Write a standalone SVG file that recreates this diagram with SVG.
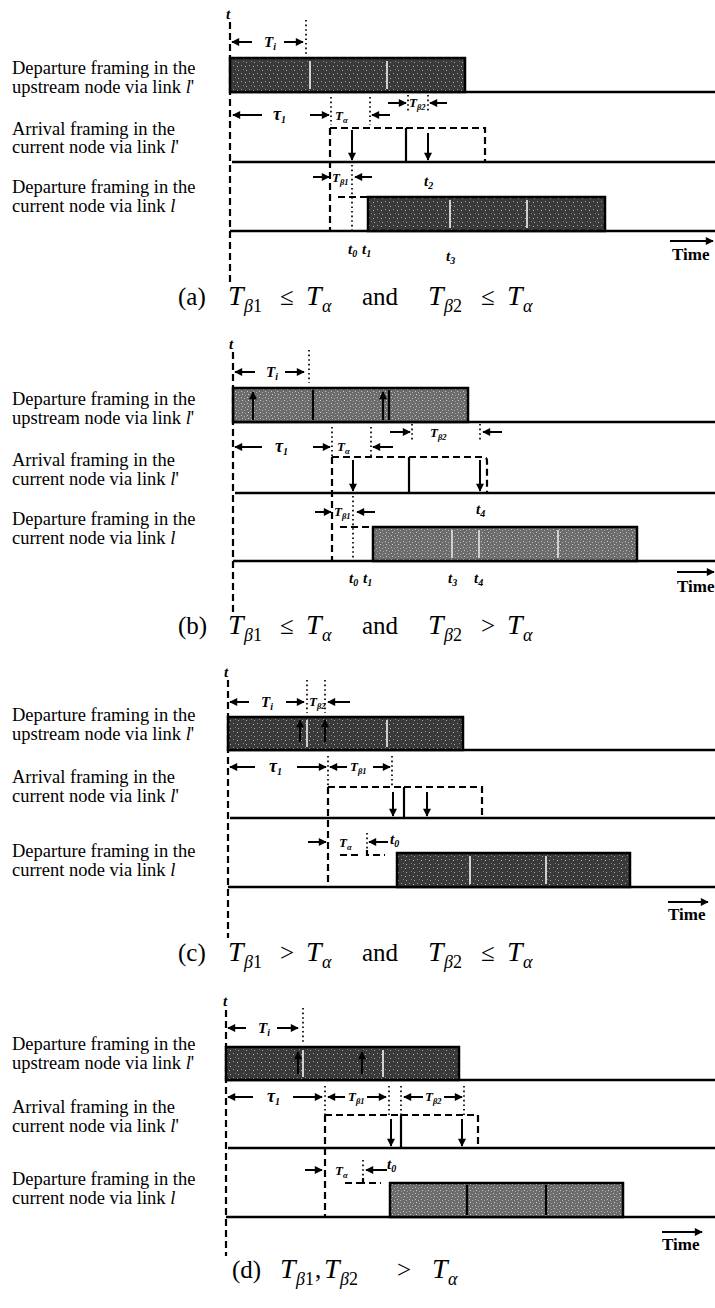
<svg xmlns="http://www.w3.org/2000/svg" width="715" height="1308" viewBox="0 0 715 1308">
<style>
.lbl{font-family:"Liberation Serif",serif;font-size:18.5px;fill:#000}
.sym{font-family:"Liberation Serif",serif;font-style:italic;font-weight:bold;font-size:15px;fill:#000}
.tau{font-family:"Liberation Serif",serif;font-style:italic;font-weight:bold;font-size:18px;fill:#000}
.sm{font-family:"Liberation Serif",serif;font-style:italic;font-weight:bold;font-size:13px;fill:#000}
.sb{font-size:10px}
.sbs{font-size:8.5px}
.time{font-family:"Liberation Serif",serif;font-weight:bold;font-size:17px;fill:#000}
.cap{font-family:"Liberation Serif",serif;font-size:25px;fill:#000}
.ci{font-style:italic;font-size:28px}
.cs{font-style:italic;font-size:18px}
.cn{font-size:18px}
.base{stroke:#000;stroke-width:2.5}
.dash{stroke:#000;stroke-width:2.2;stroke-dasharray:7 4;fill:none}
.dot{stroke:#000;stroke-width:1.7;stroke-dasharray:1.6 3}
.arr{stroke:#000;stroke-width:2;marker-end:url(#ah)}
.solid{stroke:#000;stroke-width:2.2}
.frame{stroke:#000;stroke-width:2.5}
.div{stroke:#d0d0d0;stroke-width:2}
</style>
<defs>
<marker id="ah" viewBox="0 0 10 10" refX="9" refY="5" markerUnits="userSpaceOnUse" markerWidth="9" markerHeight="8" orient="auto">
<path d="M0,0 L10,5 L0,10 z" fill="#000"/>
</marker>
<pattern id="texD" width="8" height="8" patternUnits="userSpaceOnUse">
<rect width="8" height="8" fill="#3a3a3a"/>
<rect x="1" y="1" width="1" height="1" fill="#9a9a9a"/>
<rect x="5" y="2" width="1" height="1" fill="#bbbbbb"/>
<rect x="3" y="5" width="1" height="1" fill="#888888"/>
<rect x="6" y="6" width="1" height="1" fill="#aaaaaa"/>
</pattern>
<pattern id="texM" width="6" height="6" patternUnits="userSpaceOnUse">
<rect width="6" height="6" fill="#6c6c6c"/>
<rect x="1" y="1" width="1" height="1" fill="#c4c4c4"/>
<rect x="4" y="2" width="1" height="1" fill="#b0b0b0"/>
<rect x="2" y="4" width="1" height="1" fill="#d0d0d0"/>
<rect x="5" y="5" width="1" height="1" fill="#a0a0a0"/>
</pattern>
</defs>
<rect width="715" height="1308" fill="#fff"/>

<!-- Panel (a) -->
<g id="panel-a">
<g id="a-labels">
<text class="lbl" x="12" y="74">Departure framing in the</text>
<text class="lbl" x="12" y="93">upstream node via link <tspan font-style="italic">l</tspan>'</text>
<text class="lbl" x="12" y="135">Arrival framing in the</text>
<text class="lbl" x="12" y="153">current node via link <tspan font-style="italic">l</tspan>'</text>
<text class="lbl" x="12" y="193">Departure framing in the</text>
<text class="lbl" x="12" y="212">current node via link <tspan font-style="italic">l</tspan></text>
</g>
<g id="a-frames">
<line class="base" x1="230" y1="92" x2="715" y2="92"/>
<rect class="frame" x="230" y="58" width="235" height="34" fill="url(#texD)"/>
<line class="div" x1="310" y1="61" x2="310" y2="89"/>
<line class="div" x1="387" y1="61" x2="387" y2="89"/>
<line class="base" x1="232" y1="162" x2="715" y2="162"/>
<line class="base" x1="230" y1="231" x2="715" y2="231"/>
<rect class="frame" x="368" y="197" width="237" height="34" fill="url(#texD)"/>
<line class="div" x1="450" y1="200" x2="450" y2="228"/>
<line class="div" x1="527" y1="200" x2="527" y2="228"/>
</g>
<g id="a-connectors">
<line class="dash" x1="230" y1="22" x2="230" y2="285"/>
<line class="arr" x1="252" y1="42" x2="232" y2="42"/>
<line class="arr" x1="284" y1="42" x2="303" y2="42"/>
<line class="dot" x1="306" y1="20" x2="306" y2="55"/>
<line class="arr" x1="262" y1="115" x2="233" y2="115"/>
<line class="arr" x1="310" y1="115" x2="329" y2="115"/>
<line class="dot" x1="331" y1="97" x2="331" y2="125"/>
<line class="dot" x1="370" y1="97" x2="370" y2="125"/>
<line class="arr" x1="390" y1="115" x2="372" y2="115"/>
<line class="arr" x1="388" y1="103" x2="406" y2="103"/>
<line class="dot" x1="408" y1="95" x2="408" y2="113"/>
<line class="dot" x1="428" y1="95" x2="428" y2="113"/>
<line class="arr" x1="447" y1="103" x2="430" y2="103"/>
<path class="dash" d="M330,128 H406 M406,128 H485 V162"/>
<line class="solid" x1="406" y1="128" x2="406" y2="162"/>
<line class="dash" x1="330" y1="128" x2="330" y2="231"/>
<line class="arr" x1="352" y1="130" x2="352" y2="160"/>
<line class="arr" x1="428" y1="133" x2="428" y2="160"/>
<line class="arr" x1="313" y1="177" x2="329" y2="177"/>
<line class="arr" x1="372" y1="177" x2="355" y2="177"/>
<line class="dot" x1="352" y1="165" x2="352" y2="231"/>
<line class="dash" x1="338" y1="197" x2="367" y2="197"/>
<line class="arr" x1="670" y1="241" x2="713" y2="241"/>
</g>
<g id="a-text">
<text class="sym" x="226" y="19">t</text>
<text class="sym" x="264" y="47">T<tspan class="sb" dy="3">i</tspan></text>
<text class="tau" x="273" y="120">τ<tspan class="sb" dy="3">1</tspan></text>
<text class="sm" x="335" y="120">T<tspan class="sbs" dy="3">α</tspan></text>
<text class="sm" x="409" y="107">T<tspan class="sbs" dy="3">β2</tspan></text>
<text class="sm" x="332" y="182">T<tspan class="sbs" dy="3">β1</tspan></text>
<text class="sym" x="424" y="186">t<tspan class="sb" dy="3">2</tspan></text>
<text class="sym" x="348" y="254">t<tspan class="sb" dy="3">0</tspan></text>
<text class="sym" x="362" y="254">t<tspan class="sb" dy="3">1</tspan></text>
<text class="sym" x="446" y="261">t<tspan class="sb" dy="3">3</tspan></text>
<text class="time" x="672" y="260">Time</text>
<text class="cap" y="305"><tspan x="178">(a)</tspan><tspan x="228" class="ci">T</tspan><tspan x="244" y="312" class="cs">β</tspan><tspan class="cn">1</tspan><tspan x="280" y="305">≤</tspan><tspan x="306" class="ci">T</tspan><tspan x="322" y="312" class="cs">α</tspan><tspan x="362" y="305">and</tspan><tspan x="428" class="ci">T</tspan><tspan x="444" y="312" class="cs">β</tspan><tspan class="cn">2</tspan><tspan x="481" y="305">≤</tspan><tspan x="507" class="ci">T</tspan><tspan x="523" y="312" class="cs">α</tspan></text>
</g>
</g>

<!-- Panel (b) -->
<g id="panel-b" transform="translate(0,330)">
<g id="b-labels">
<text class="lbl" x="12" y="75">Departure framing in the</text>
<text class="lbl" x="12" y="94">upstream node via link <tspan font-style="italic">l</tspan>'</text>
<text class="lbl" x="12" y="136">Arrival framing in the</text>
<text class="lbl" x="12" y="155">current node via link <tspan font-style="italic">l</tspan>'</text>
<text class="lbl" x="12" y="195">Departure framing in the</text>
<text class="lbl" x="12" y="214">current node via link <tspan font-style="italic">l</tspan></text>
</g>
<g id="b-frames">
<line class="base" x1="233" y1="92" x2="715" y2="92"/>
<rect class="frame" x="233" y="58" width="235" height="34" fill="url(#texM)"/>
<line class="solid" x1="313" y1="60" x2="313" y2="90"/>
<line class="solid" x1="389" y1="60" x2="389" y2="90"/>
<line class="arr" x1="253" y1="90" x2="253" y2="62"/>
<line class="arr" x1="383" y1="90" x2="383" y2="62"/>
<line class="base" x1="235" y1="163" x2="715" y2="163"/>
<line class="base" x1="233" y1="231" x2="715" y2="231"/>
<rect class="frame" x="373" y="197" width="264" height="34" fill="url(#texM)"/>
<line class="div" x1="452" y1="200" x2="452" y2="228"/>
<line class="div" x1="479" y1="200" x2="479" y2="228"/>
<line class="div" x1="558" y1="200" x2="558" y2="228"/>
</g>
<g id="b-connectors">
<line class="dash" x1="233" y1="22" x2="233" y2="283"/>
<line class="arr" x1="255" y1="42" x2="235" y2="42"/>
<line class="arr" x1="285" y1="42" x2="304" y2="42"/>
<line class="dot" x1="309" y1="20" x2="309" y2="53"/>
<line class="arr" x1="262" y1="117" x2="235" y2="117"/>
<line class="arr" x1="313" y1="117" x2="330" y2="117"/>
<line class="dot" x1="332" y1="97" x2="332" y2="127"/>
<line class="dot" x1="371" y1="97" x2="371" y2="127"/>
<line class="arr" x1="393" y1="117" x2="373" y2="117"/>
<line class="arr" x1="390" y1="102" x2="410" y2="102"/>
<line class="dot" x1="412" y1="94" x2="412" y2="110"/>
<line class="dot" x1="480" y1="94" x2="480" y2="110"/>
<line class="arr" x1="502" y1="102" x2="483" y2="102"/>
<path class="dash" d="M332,127 H409 M409,127 H483 Q487,127 487,131 V163"/>
<line class="solid" x1="409" y1="127" x2="409" y2="163"/>
<line class="dash" x1="332" y1="127" x2="332" y2="231"/>
<line class="arr" x1="353" y1="130" x2="353" y2="161"/>
<line class="arr" x1="480" y1="130" x2="480" y2="161"/>
<line class="arr" x1="315" y1="182" x2="331" y2="182"/>
<line class="arr" x1="375" y1="182" x2="357" y2="182"/>
<line class="dot" x1="353" y1="166" x2="353" y2="231"/>
<line class="dash" x1="340" y1="197" x2="370" y2="197"/>
<line class="arr" x1="677" y1="242" x2="714" y2="242"/>
</g>
<g id="b-text">
<text class="sym" x="229" y="19">t</text>
<text class="sym" x="266" y="47">T<tspan class="sb" dy="3">i</tspan></text>
<text class="tau" x="275" y="122">τ<tspan class="sb" dy="3">1</tspan></text>
<text class="sm" x="337" y="121">T<tspan class="sbs" dy="3">α</tspan></text>
<text class="sm" x="430" y="107">T<tspan class="sbs" dy="3">β2</tspan></text>
<text class="sm" x="334" y="186">T<tspan class="sbs" dy="3">β1</tspan></text>
<text class="sym" x="476" y="184">t<tspan class="sb" dy="3">4</tspan></text>
<text class="sym" x="349" y="253">t<tspan class="sb" dy="3">0</tspan></text>
<text class="sym" x="363" y="253">t<tspan class="sb" dy="3">1</tspan></text>
<text class="sym" x="448" y="253">t<tspan class="sb" dy="3">3</tspan></text>
<text class="sym" x="474" y="253">t<tspan class="sb" dy="3">4</tspan></text>
<text class="time" x="677" y="262">Time</text>
<text class="cap" y="304"><tspan x="178">(b)</tspan><tspan x="228" class="ci">T</tspan><tspan x="244" y="311" class="cs">β</tspan><tspan class="cn">1</tspan><tspan x="280" y="304">≤</tspan><tspan x="306" class="ci">T</tspan><tspan x="322" y="311" class="cs">α</tspan><tspan x="362" y="304">and</tspan><tspan x="428" class="ci">T</tspan><tspan x="444" y="311" class="cs">β</tspan><tspan class="cn">2</tspan><tspan x="481" y="304">&gt;</tspan><tspan x="507" class="ci">T</tspan><tspan x="523" y="311" class="cs">α</tspan></text>
</g>
</g>

<!-- Panel (c) -->
<g id="panel-c" transform="translate(0,658)">
<g id="c-labels">
<text class="lbl" x="12" y="63">Departure framing in the</text>
<text class="lbl" x="12" y="82">upstream node via link <tspan font-style="italic">l</tspan>'</text>
<text class="lbl" x="12" y="125">Arrival framing in the</text>
<text class="lbl" x="12" y="144">current node via link <tspan font-style="italic">l</tspan>'</text>
<text class="lbl" x="12" y="199">Departure framing in the</text>
<text class="lbl" x="12" y="218">current node via link <tspan font-style="italic">l</tspan></text>
</g>
<g id="c-frames">
<line class="base" x1="228" y1="92" x2="715" y2="92"/>
<rect class="frame" x="228" y="59" width="235" height="33" fill="url(#texD)"/>
<line class="div" x1="307" y1="62" x2="307" y2="89"/>
<line class="div" x1="387" y1="62" x2="387" y2="89"/>
<line class="arr" x1="300" y1="84" x2="300" y2="62"/>
<line class="arr" x1="325" y1="84" x2="325" y2="62"/>
<line class="base" x1="230" y1="160" x2="715" y2="160"/>
<line class="base" x1="228" y1="229" x2="715" y2="229"/>
<rect class="frame" x="397" y="195" width="233" height="34" fill="url(#texD)"/>
<line class="div" x1="470" y1="198" x2="470" y2="226"/>
<line class="div" x1="546" y1="198" x2="546" y2="226"/>
</g>
<g id="c-connectors">
<line class="dash" x1="228" y1="22" x2="228" y2="280"/>
<line class="arr" x1="249" y1="44" x2="230" y2="44"/>
<line class="arr" x1="286" y1="44" x2="304" y2="44"/>
<line class="dot" x1="307" y1="22" x2="307" y2="55"/>
<line class="dot" x1="325" y1="22" x2="325" y2="55"/>
<line class="arr" x1="350" y1="44" x2="328" y2="44"/>
<line class="arr" x1="255" y1="109" x2="230" y2="109"/>
<line class="arr" x1="297" y1="109" x2="326" y2="109"/>
<line class="dot" x1="328" y1="98" x2="328" y2="129"/>
<line class="arr" x1="347" y1="109" x2="330" y2="109"/>
<line class="arr" x1="373" y1="109" x2="390" y2="109"/>
<line class="dot" x1="392" y1="98" x2="392" y2="129"/>
<path class="dash" d="M328,129 H404 M404,129 H482 V160"/>
<line class="solid" x1="404" y1="129" x2="404" y2="160"/>
<line class="dash" x1="328" y1="129" x2="328" y2="229"/>
<line class="arr" x1="393" y1="134" x2="393" y2="158"/>
<line class="arr" x1="427" y1="134" x2="427" y2="158"/>
<line class="arr" x1="308" y1="184" x2="326" y2="184"/>
<line class="dot" x1="367" y1="175" x2="367" y2="195"/>
<line class="arr" x1="388" y1="184" x2="369" y2="184"/>
<line class="dash" x1="340" y1="197" x2="358" y2="197"/>
<path class="dash" d="M367,192 V197 H385"/>
<line class="arr" x1="668" y1="244" x2="708" y2="244"/>
</g>
<g id="c-text">
<text class="sym" x="224" y="19">t</text>
<text class="sym" x="261" y="49">T<tspan class="sb" dy="3">i</tspan></text>
<text class="sm" x="309" y="48">T<tspan class="sbs" dy="3">β2</tspan></text>
<text class="tau" x="269" y="114">τ<tspan class="sb" dy="3">1</tspan></text>
<text class="sm" x="350" y="113">T<tspan class="sbs" dy="3">β1</tspan></text>
<text class="sm" x="339" y="189">T<tspan class="sbs" dy="3">α</tspan></text>
<text class="sym" x="390" y="186">t<tspan class="sb" dy="3">0</tspan></text>
<text class="time" x="668" y="262">Time</text>
<text class="cap" y="303"><tspan x="178">(c)</tspan><tspan x="228" class="ci">T</tspan><tspan x="244" y="310" class="cs">β</tspan><tspan class="cn">1</tspan><tspan x="280" y="303">&gt;</tspan><tspan x="306" class="ci">T</tspan><tspan x="322" y="310" class="cs">α</tspan><tspan x="362" y="303">and</tspan><tspan x="428" class="ci">T</tspan><tspan x="444" y="310" class="cs">β</tspan><tspan class="cn">2</tspan><tspan x="481" y="303">≤</tspan><tspan x="507" class="ci">T</tspan><tspan x="523" y="310" class="cs">α</tspan></text>
</g>
</g>

<!-- Panel (d) -->
<g id="panel-d" transform="translate(0,988)">
<g id="d-labels">
<text class="lbl" x="12" y="62">Departure framing in the</text>
<text class="lbl" x="12" y="81">upstream node via link <tspan font-style="italic">l</tspan>'</text>
<text class="lbl" x="12" y="125">Arrival framing in the</text>
<text class="lbl" x="12" y="144">current node via link <tspan font-style="italic">l</tspan>'</text>
<text class="lbl" x="12" y="197">Departure framing in the</text>
<text class="lbl" x="12" y="216">current node via link <tspan font-style="italic">l</tspan></text>
</g>
<g id="d-frames">
<line class="base" x1="226" y1="92" x2="715" y2="92"/>
<rect class="frame" x="226" y="59" width="233" height="33" fill="url(#texD)"/>
<line class="div" x1="303" y1="62" x2="303" y2="89"/>
<line class="div" x1="383" y1="62" x2="383" y2="89"/>
<line class="arr" x1="298" y1="86" x2="298" y2="64"/>
<line class="arr" x1="362" y1="86" x2="362" y2="64"/>
<line class="base" x1="228" y1="160" x2="715" y2="160"/>
<line class="base" x1="226" y1="229" x2="715" y2="229"/>
<rect class="frame" x="390" y="195" width="233" height="34" fill="url(#texM)"/>
<line class="solid" x1="467" y1="197" x2="467" y2="227"/>
<line class="solid" x1="546" y1="197" x2="546" y2="227"/>
</g>
<g id="d-connectors">
<line class="dash" x1="226" y1="22" x2="226" y2="268"/>
<line class="arr" x1="246" y1="40" x2="228" y2="40"/>
<line class="arr" x1="277" y1="40" x2="298" y2="40"/>
<line class="dot" x1="303" y1="20" x2="303" y2="54"/>
<line class="arr" x1="253" y1="109" x2="228" y2="109"/>
<line class="arr" x1="293" y1="109" x2="322" y2="109"/>
<line class="dot" x1="325" y1="98" x2="325" y2="127"/>
<line class="arr" x1="345" y1="109" x2="328" y2="109"/>
<line class="arr" x1="367" y1="109" x2="386" y2="109"/>
<line class="dot" x1="389" y1="98" x2="389" y2="127"/>
<line class="dot" x1="401" y1="98" x2="401" y2="127"/>
<line class="arr" x1="423" y1="109" x2="404" y2="109"/>
<line class="arr" x1="444" y1="109" x2="462" y2="109"/>
<line class="dot" x1="464" y1="98" x2="464" y2="127"/>
<path class="dash" d="M325,127 H401 M401,127 H478 V160"/>
<line class="solid" x1="401" y1="127" x2="401" y2="160"/>
<line class="dash" x1="325" y1="127" x2="325" y2="229"/>
<line class="arr" x1="391" y1="131" x2="391" y2="158"/>
<line class="arr" x1="462" y1="131" x2="462" y2="158"/>
<line class="arr" x1="305" y1="182" x2="322" y2="182"/>
<line class="dot" x1="363" y1="172" x2="363" y2="195"/>
<line class="arr" x1="387" y1="182" x2="366" y2="182"/>
<line class="dash" x1="345" y1="195" x2="362" y2="195"/>
<path class="dash" d="M363,190 V195 H381"/>
<line class="arr" x1="662" y1="244" x2="702" y2="244"/>
</g>
<g id="d-text">
<text class="sym" x="223" y="18">t</text>
<text class="sym" x="258" y="45">T<tspan class="sb" dy="3">i</tspan></text>
<text class="tau" x="267" y="114">τ<tspan class="sb" dy="3">1</tspan></text>
<text class="sm" x="348" y="113">T<tspan class="sbs" dy="3">β1</tspan></text>
<text class="sm" x="425" y="113">T<tspan class="sbs" dy="3">β2</tspan></text>
<text class="sm" x="335" y="187">T<tspan class="sbs" dy="3">α</tspan></text>
<text class="sym" x="387" y="181">t<tspan class="sb" dy="3">0</tspan></text>
<text class="time" x="662" y="262">Time</text>
<text class="cap" y="290"><tspan x="232">(d)</tspan><tspan x="280" class="ci">T</tspan><tspan x="296" y="297" class="cs">β</tspan><tspan class="cn">1</tspan><tspan x="315" y="290">,</tspan><tspan x="324" class="ci">T</tspan><tspan x="340" y="297" class="cs">β</tspan><tspan class="cn">2</tspan><tspan x="397" y="290">&gt;</tspan><tspan x="432" class="ci">T</tspan><tspan x="448" y="297" class="cs">α</tspan></text>
</g>
</g>
</svg>
